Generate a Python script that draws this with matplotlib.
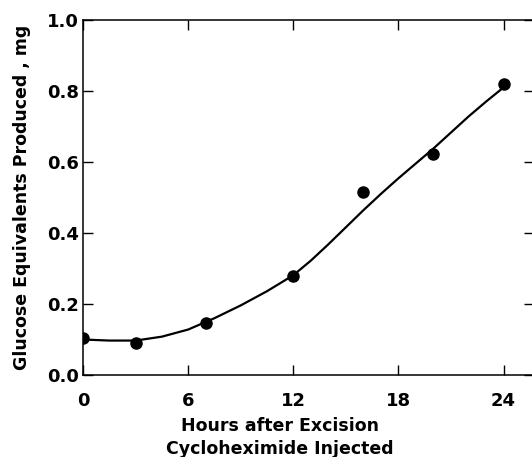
import numpy as np
import matplotlib
matplotlib.use('Agg')
import matplotlib.pyplot as plt
from matplotlib import rcParams

rcParams['font.family'] = ['DejaVu Sans']
rcParams['font.weight'] = 'bold'

# 实测数据点
hours = [0, 3, 7, 12, 16, 20, 24]
glucose = [0.103, 0.089, 0.147, 0.280, 0.516, 0.622, 0.819]

# 拟合曲线
curve_x = [0, 1.5, 3, 4.5, 6, 7.5, 9, 10.5, 12, 13, 14, 15, 16, 17, 18, 19, 20, 21, 22, 23, 24]
curve_y = [0.100, 0.097, 0.097, 0.108, 0.128, 0.160, 0.196, 0.236, 0.281,
           0.322, 0.368, 0.416, 0.464, 0.510, 0.554, 0.596, 0.638, 0.683,
           0.728, 0.770, 0.810]

x_ticks = [0, 6, 12, 18, 24]
y_ticks = [0.0, 0.2, 0.4, 0.6, 0.8, 1.0]

fig = plt.figure(figsize=(5.32, 4.57), dpi=100)
ax = fig.add_axes([83 / 532, 1 - 375 / 457, (534 - 83) / 532, (375 - 20) / 457])

ax.plot(curve_x, curve_y, color='black', linewidth=1.6, zorder=2)
ax.plot(hours, glucose, 'o', color='black', markersize=8, zorder=3)

ax.set_xlim(0, 25.74)
ax.set_ylim(0, 1.0)
ax.set_xticks(x_ticks)
ax.set_yticks(y_ticks)
ax.set_yticklabels(['%.1f' % v for v in y_ticks])

for s in ax.spines.values():
    s.set_linewidth(1.1)

ax.tick_params(direction='in', length=7, width=1.0, labelsize=13,
               top=True, right=True)
ax.tick_params(axis='x', pad=12)
ax.tick_params(axis='y', pad=3)
for lab in ax.get_xticklabels() + ax.get_yticklabels():
    lab.set_fontweight('bold')

fig.text(280 / 532, 1 - 431 / 457, 'Hours after Excision', ha='center', va='baseline',
         fontsize=12.5, fontweight='bold')
fig.text(280 / 532, 1 - 454 / 457, 'Cycloheximide Injected', ha='center', va='baseline',
         fontsize=12.5, fontweight='bold')
fig.text(22 / 532, 1 - 197 / 457, 'Glucose Equivalents Produced , mg', rotation=90,
         ha='center', va='center', fontsize=12.5, fontweight='bold')

fig.savefig('out.png', dpi=100)
